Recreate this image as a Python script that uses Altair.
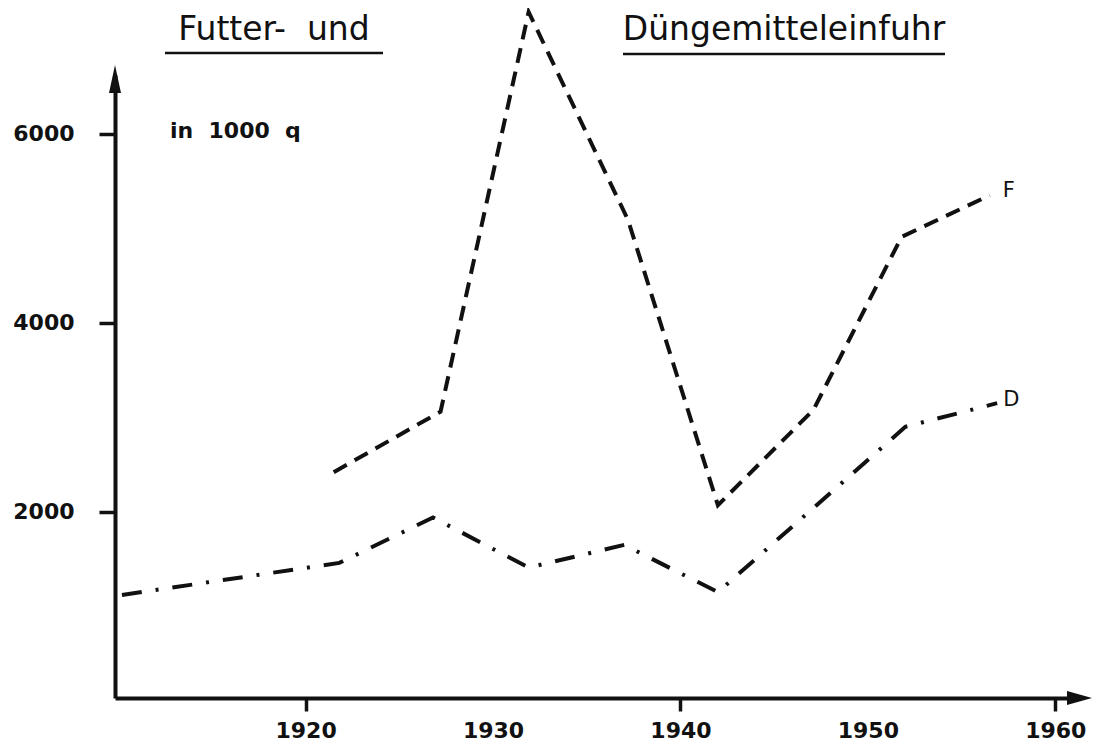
import altair as alt
import pandas as pd

# ---- data ----
YEARS_F = [1921.5, 1927.2, 1931.9, 1937.2, 1942.0, 1947.1, 1951.8, 1956.5]
VALUES_F = [2420, 3060, 7290, 5090, 2070, 3080, 4910, 5350]
YEARS_D = [1910.2, 1921.8, 1926.8, 1931.9, 1937.0, 1942.0, 1947.0, 1952.0, 1956.9]
VALUES_D = [1120, 1460, 1940, 1410, 1650, 1150, 2025, 2900, 3150]
X_TICKS = [1920, 1930, 1940, 1950, 1960]
Y_TICKS = [2000, 4000, 6000]
X_DOMAIN = [1909.83, 1960.84]
Y_DOMAIN = [30, 6623]
TITLE_LEFT = "Futter-\u00a0\u00a0und"
TITLE_RIGHT = "Düngemitteleinfuhr"
UNIT = "in\u00a0\u00a01000\u00a0\u00a0q"
LABEL_F = "F"
LABEL_D = "D"

INK = "#111111"
FONT = "DejaVu Sans"
W, H = 956, 623

df_f = pd.DataFrame({"year": YEARS_F, "value": VALUES_F})
df_d = pd.DataFrame({"year": YEARS_D, "value": VALUES_D})

x_enc = alt.X(
    "year:Q",
    scale=alt.Scale(domain=X_DOMAIN, nice=False, zero=False),
    axis=alt.Axis(
        values=X_TICKS, format="d", title=None, grid=False,
        domainWidth=4, domainColor=INK,
        tickSize=13, tickWidth=3.5, tickColor=INK,
        tickOpacity={"condition": {"test": "datum.value % 20 === 0", "value": 1}, "value": 0},
        labelFont=FONT, labelFontSize=22, labelFontWeight="bold", labelColor=INK,
        labelPadding=9, labelFlush=False, labelOverlap=False,
    ),
)
y_enc = alt.Y(
    "value:Q",
    scale=alt.Scale(domain=Y_DOMAIN, nice=False, zero=False),
    axis=alt.Axis(
        values=Y_TICKS, format="d", title=None, grid=False,
        domainWidth=4, domainColor=INK,
        tickSize=16, tickWidth=3.5, tickColor=INK,
        labelFont=FONT, labelFontSize=22, labelFontWeight="bold", labelColor=INK,
        labelPadding=25, labelFlush=False, labelOverlap=False,
    ),
)

line_f = alt.Chart(df_f).mark_line(
    color=INK, strokeWidth=4, strokeDash=[15, 9], strokeCap="butt", clip=False
).encode(x=x_enc, y=y_enc)

line_d = alt.Chart(df_d).mark_line(
    color=INK, strokeWidth=4, strokeDash=[20, 14, 3, 14], strokeCap="butt", clip=False
).encode(x=x_enc, y=y_enc)

# arrow heads at the ends of the axes
arrow_x = alt.Chart(pd.DataFrame({"year": [X_DOMAIN[1]], "value": [Y_DOMAIN[0]]})).mark_point(
    shape="M2.1,0L-0.4,-0.7L-0.4,0.7Z", size=400, filled=True, color=INK, opacity=1, strokeWidth=0, clip=False
).encode(x=x_enc, y=y_enc)
arrow_y = alt.Chart(pd.DataFrame({"year": [X_DOMAIN[0]], "value": [Y_DOMAIN[1]]})).mark_point(
    shape="M0,-1L0.6,1.8L-0.6,1.8Z", size=400, filled=True, color=INK, opacity=1, strokeWidth=0, clip=False
).encode(x=x_enc, y=y_enc)

# end labels of the two series
lab_f = alt.Chart(pd.DataFrame({"year": [YEARS_F[-1]], "value": [VALUES_F[-1]], "t": [LABEL_F]})).mark_text(
    font=FONT, fontSize=21, align="left", baseline="middle", dx=13, dy=-4, color=INK
).encode(x=x_enc, y=y_enc, text="t:N")
lab_d = alt.Chart(pd.DataFrame({"year": [YEARS_D[-1]], "value": [VALUES_D[-1]], "t": [LABEL_D]})).mark_text(
    font=FONT, fontSize=21, align="left", baseline="middle", dx=6, dy=-3, color=INK
).encode(x=x_enc, y=y_enc, text="t:N")

# titles with underlines and unit text
t_left = alt.Chart(pd.DataFrame({"t": [TITLE_LEFT]})).mark_text(
    font=FONT, fontSize=33, align="center", baseline="alphabetic", color=INK
).encode(text="t:N", x=alt.value(159), y=alt.value(-35))
t_right = alt.Chart(pd.DataFrame({"t": [TITLE_RIGHT]})).mark_text(
    font=FONT, fontSize=33, align="center", baseline="alphabetic", color=INK
).encode(text="t:N", x=alt.value(669), y=alt.value(-35))
u_left = alt.Chart(pd.DataFrame({"a": [0]})).mark_rule(color=INK, strokeWidth=2.5).encode(
    x=alt.value(50), x2=alt.value(268), y=alt.value(-22)
)
u_right = alt.Chart(pd.DataFrame({"a": [0]})).mark_rule(color=INK, strokeWidth=2.5).encode(
    x=alt.value(508), x2=alt.value(830), y=alt.value(-21)
)
unit = alt.Chart(pd.DataFrame({"t": [UNIT]})).mark_text(
    font=FONT, fontSize=22, fontWeight="bold", align="left", baseline="alphabetic", color=INK
).encode(text="t:N", x=alt.value(55), y=alt.value(63))

chart = alt.layer(
    line_f, line_d, arrow_x, arrow_y, lab_f, lab_d, t_left, t_right, u_left, u_right, unit
).properties(
    width=W, height=H,
    autosize=alt.AutoSizeParams(type="none"),
    padding={"left": 107, "top": 67, "right": 22, "bottom": 47},
    background="white",
).configure_view(stroke=None)

chart.save("out.html", embed_options={"renderer": "svg", "actions": False})
